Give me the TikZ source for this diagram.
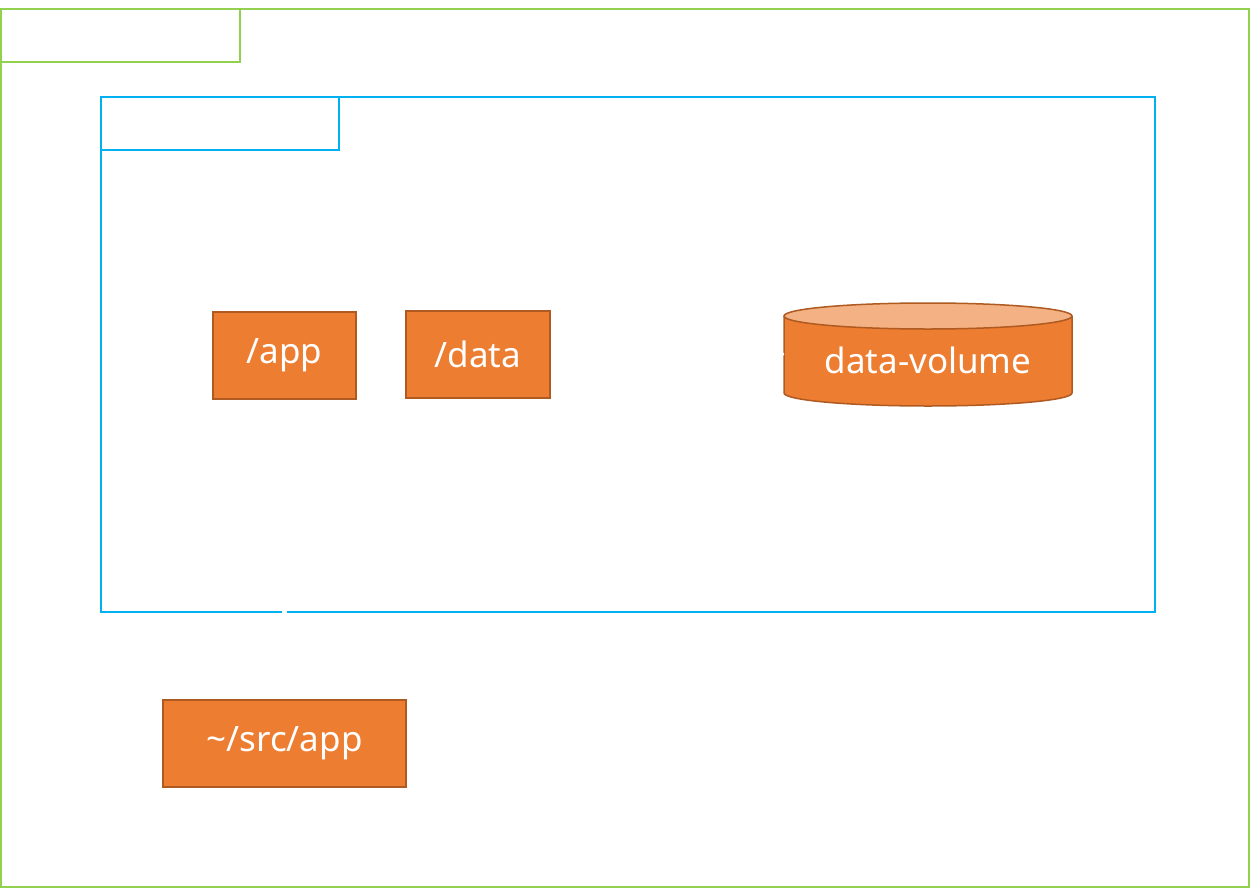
\documentclass[tikz,border=0pt]{standalone}
\usepackage{fontspec}
\setmainfont{Noto Sans}
\definecolor{orng}{HTML}{ED7D31}
\definecolor{orngdark}{HTML}{AE5A21}
\definecolor{ornglight}{HTML}{F4B183}
\definecolor{grn}{HTML}{92D050}
\definecolor{blu}{HTML}{00B0F0}
\begin{document}
\begin{tikzpicture}[x=1pt,y=-1pt,
  bigtext/.style={text=white,font=\fontsize{35}{40}\selectfont,inner sep=0pt},
  folder/.style={bigtext,fill=orng,draw=orngdark,line width=1.5pt}]
\useasboundingbox (0,0) rectangle (1251,889);
% outer host
\draw[grn,line width=1.5pt] (1,9) rectangle (1249,887);
\draw[grn,line width=1.5pt] (1,9) rectangle (240,62);
% container
\draw[blu,line width=1.5pt] (101,97) rectangle (1155,612);
\draw[blu,line width=1.5pt] (101,97) rectangle (339,150);
% folders
\node[folder,minimum width=143pt,minimum height=87pt] (app) at (284.5,355.5) {/app};
\node[folder,minimum width=144pt,minimum height=87pt] (data) at (478,354.5) {/data};
\node[folder,minimum width=243pt,minimum height=87pt] (src) at (284.5,743.5) {\textasciitilde/src/app};
% cylinder
\fill[orng] (784,316) -- (784,393) arc[start angle=180,end angle=0,x radius=144,y radius=13] -- (1072,316) -- cycle;
\draw[orngdark,line width=1.5pt] (784,316) -- (784,393) arc[start angle=180,end angle=0,x radius=144,y radius=13] -- (1072,316);
\draw[orngdark,fill=ornglight,line width=1.5pt] (928,316) ellipse[x radius=144,y radius=13];
\node[bigtext,minimum width=288pt,minimum height=70pt] (vol) at (928,360) {data-volume};
\coordinate (volw) at (784,354);
% white connectors
\draw[white,line width=5pt] (app.south) ++(0,2) -- (src.north);
\draw[white,line width=2.5pt] (data.east) ++(2,0) -- (volw);
\end{tikzpicture}
\end{document}
